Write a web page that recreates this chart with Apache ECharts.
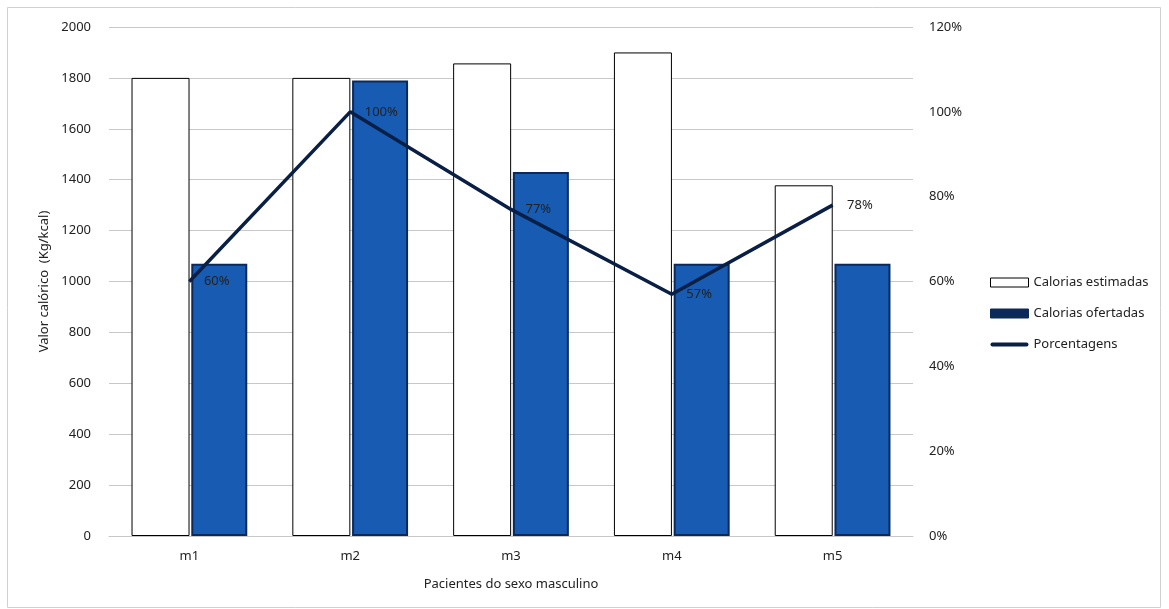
<!DOCTYPE html>
<html><head><meta charset="utf-8">
<script src="https://cdn.jsdelivr.net/npm/echarts@6/dist/echarts.min.js"></script>
<style>html,body{margin:0;padding:0;background:#fff}#c{width:1169px;height:609px}</style>
</head><body><div id="c"></div>
<script>
var categories = ['m1','m2','m3','m4','m5'];
var estimadas = [1800, 1800, 1857, 1900, 1378];
var ofertadas = [1070, 1790, 1430, 1070, 1070];
var porcentagens = [60, 100, 77, 57, 78];

var F = 'Noto Sans';
var chart = echarts.init(document.getElementById('c'));
chart.setOption({
  animation: false,
  graphic: [{type:'rect', shape:{x:7.5,y:7.5,width:1153,height:600}, style:{fill:'none',stroke:'#d0d0d0',lineWidth:1}}],
  grid: {left:109, right:256, top:27, bottom:73},
  legend: {
    orient:'vertical', left:985, top:271, itemWidth:38, itemHeight:9, itemGap:18,
    textStyle:{fontFamily:F, fontSize:13, color:'#222'},
    data:[
      {name:'Calorias estimadas', icon:'rect', itemStyle:{color:'#fff', borderColor:'#000', borderWidth:1, opacity:1}},
      {name:'Calorias ofertadas', icon:'rect', itemStyle:{color:'#0B2A5A', borderColor:'#0B2A5A', borderWidth:1, opacity:1}},
      {name:'Porcentagens', icon:'path://M2,0 L38,0 A2,2 0 0 1 38,4 L2,4 A2,2 0 0 1 2,0Z', itemStyle:{color:'#0A1F45', opacity:1, borderWidth:0}}
    ]
  },
  xAxis: {
    type:'category', data:categories,
    axisLine:{show:true, lineStyle:{color:'#c8c8c8'}}, axisTick:{show:false},
    axisLabel:{fontFamily:F, fontSize:13, color:'#222', margin:14},
    name:'Pacientes do sexo masculino', nameLocation:'middle', nameGap:42,
    nameTextStyle:{fontFamily:F, fontSize:13, color:'#222'}
  },
  yAxis: [{
    type:'value', min:0, max:2000, interval:200,
    axisLine:{show:false}, axisTick:{show:false},
    splitLine:{lineStyle:{color:'#c8c8c8'}},
    axisLabel:{fontFamily:F, fontSize:13, color:'#222', margin:18, formatter:function(v){return String(v);}},
    name:'Valor calórico  (Kg/kcal)', nameLocation:'middle', nameGap:56, nameRotate:90,
    nameTextStyle:{fontFamily:F, fontSize:13, color:'#222'}
  },{
    type:'value', min:0, max:120, interval:20, position:'right',
    axisLine:{show:false}, axisTick:{show:false}, splitLine:{show:false},
    axisLabel:{fontFamily:F, fontSize:13, color:'#222', margin:16, formatter:'{value}%'}
  }],
  series: [{
    name:'Calorias estimadas', type:'bar', data:estimadas, barWidth:58, barGap:'3%',
    itemStyle:{color:'#fff', borderColor:'#000', borderWidth:1}
  },{
    name:'Calorias ofertadas', type:'bar', data:ofertadas, barWidth:56,
    itemStyle:{color:'#175BB3', borderColor:'#0B2A5A', borderWidth:2}
  },{
    name:'Porcentagens', type:'line', yAxisIndex:1, data:porcentagens,
    symbol:'circle', symbolSize:1, showSymbol:true, z:5,
    lineStyle:{color:'#0A1F45', width:3.5},
    itemStyle:{color:'#0A1F45', opacity:0},
    label:{show:true, position:'right', distance:14, formatter:'{c}%', fontFamily:F, fontSize:13, color:'#222', opacity:1},
    labelLayout:{hideOverlap:false}
  }]
});
</script></body></html>
